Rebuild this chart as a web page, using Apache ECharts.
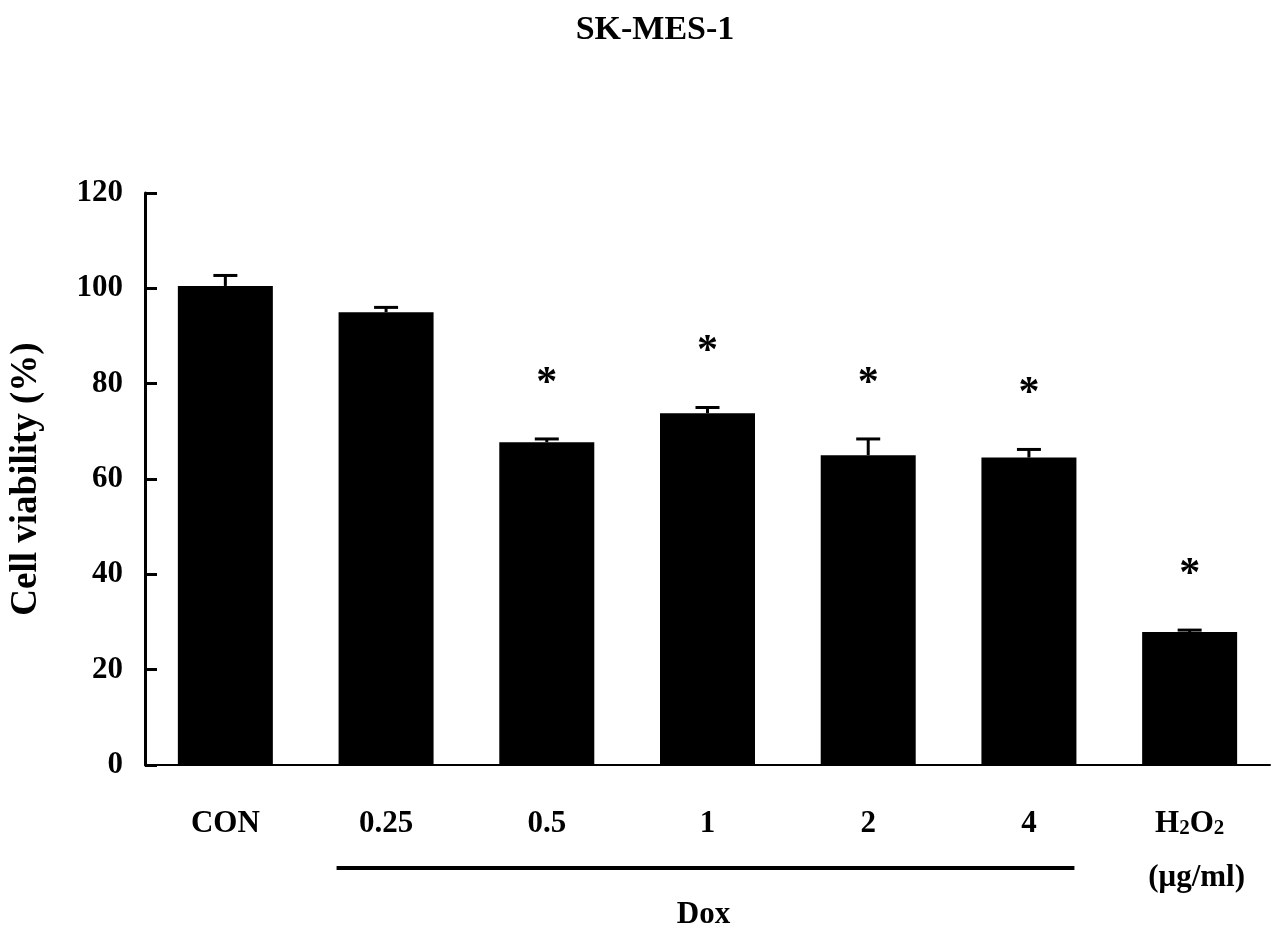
<!DOCTYPE html>
<html>
<head>
<meta charset="utf-8">
<script src="https://cdn.jsdelivr.net/npm/echarts@6/dist/echarts.min.js"></script>
<style>html,body{margin:0;padding:0;background:#fff}#c{width:1286px;height:945px}</style>
</head>
<body>
<div id="c"></div>
<script>
const categories = ['CON', '0.25', '0.5', '1', '2', '4', 'H2O2'];
const viability = [100.5, 95.0, 67.7, 73.8, 65.0, 64.5, 27.9];
const errors = [2.2, 1.0, 0.7, 1.2, 3.4, 1.7, 0.4];
const significant = [false, false, true, true, true, true, true];
const yTicks = { min: 0, max: 120, interval: 20 };

const FONT = '"Liberation Serif","Times New Roman",serif';
const chart = echarts.init(document.getElementById('c'), null, { renderer: 'canvas' });

const errData = categories.map((c, i) => [i, viability[i], errors[i], significant[i] ? 1 : 0]);

const option = {
  backgroundColor: '#fff',
  animation: false,
  title: {
    text: 'SK-MES-1',
    left: 650, top: 8, textAlign: 'center',
    textStyle: { fontFamily: FONT, fontWeight: 'bold', fontSize: 34, color: '#000' }
  },
  grid: { left: 145, right: 16, top: 193, bottom: 180 },
  xAxis: {
    type: 'category',
    data: categories,
    axisLine: { lineStyle: { color: '#000', width: 2 } },
    axisTick: { show: false },
    axisLabel: {
      interval: 0,
      margin: 43,
      color: '#000', fontFamily: FONT, fontWeight: 'bold', fontSize: 31,
      formatter: v => v === 'H2O2' ? 'H{s|2}O{s|2}' : v,
      rich: { s: { fontFamily: FONT, fontWeight: 'bold', fontSize: 21, color: '#000', verticalAlign: 'bottom', padding: [7, 0, 0, 0] } }
    }
  },
  yAxis: {
    type: 'value',
    min: yTicks.min, max: yTicks.max, interval: yTicks.interval,
    name: 'Cell viability (%)',
    nameLocation: 'middle', nameRotate: 90, nameGap: 100,
    nameTextStyle: { fontFamily: FONT, fontWeight: 'bold', fontSize: 37, color: '#000' },
    axisLine: { show: true, lineStyle: { color: '#000', width: 3 } },
    axisTick: { show: true, inside: true, length: 12, lineStyle: { color: '#000', width: 3 } },
    splitLine: { show: false },
    axisLabel: { margin: 22, color: '#000', fontFamily: FONT, fontWeight: 'bold', fontSize: 31 }
  },
  series: [
    {
      type: 'bar',
      data: viability,
      barWidth: 95,
      itemStyle: { color: '#000' },
      z: 2
    },
    {
      type: 'custom',
      data: errData,
      z: 3,
      renderItem: function (params, api) {
        const x = api.value(0);
        const v = api.value(1);
        const e = api.value(2);
        const sig = api.value(3);
        const top = api.coord([x, v + e]);
        const base = api.coord([x, v]);
        const half = 12;
        const children = [
          { type: 'line', shape: { x1: top[0], y1: top[1], x2: top[0], y2: base[1] }, style: { stroke: '#000', lineWidth: 3 } },
          { type: 'line', shape: { x1: top[0] - half, y1: top[1], x2: top[0] + half, y2: top[1] }, style: { stroke: '#000', lineWidth: 3 } }
        ];
        if (sig) {
          children.push({
            type: 'text',
            style: { text: '*', x: top[0], y: top[1] - 55, align: 'center', verticalAlign: 'middle',
              font: 'bold 42px ' + FONT, fill: '#000' }
          });
        }
        return { type: 'group', children: children };
      }
    }
  ]
};
chart.setOption(option);

const p1 = chart.convertToPixel({ xAxisIndex: 0 }, 1);
const p4 = chart.convertToPixel({ xAxisIndex: 0 }, 5);
const pH = chart.convertToPixel({ xAxisIndex: 0 }, 6);
const bw = 95;
chart.setOption({
  graphic: [
    { type: 'line', shape: { x1: p1 - bw / 2 - 2, y1: 868, x2: p4 + bw / 2 - 2, y2: 868 }, style: { stroke: '#000', lineWidth: 4 } },
    { type: 'text', x: (p1 + p4) / 2 - 4, y: 915, style: { text: 'Dox', align: 'center', verticalAlign: 'middle', font: 'bold 31px ' + FONT, fill: '#000' } },
    { type: 'text', x: pH + 7, y: 878, style: { text: '(μg/ml)', align: 'center', verticalAlign: 'middle', font: 'bold 31px ' + FONT, fill: '#000' } }
  ]
});
</script>
</body>
</html>
